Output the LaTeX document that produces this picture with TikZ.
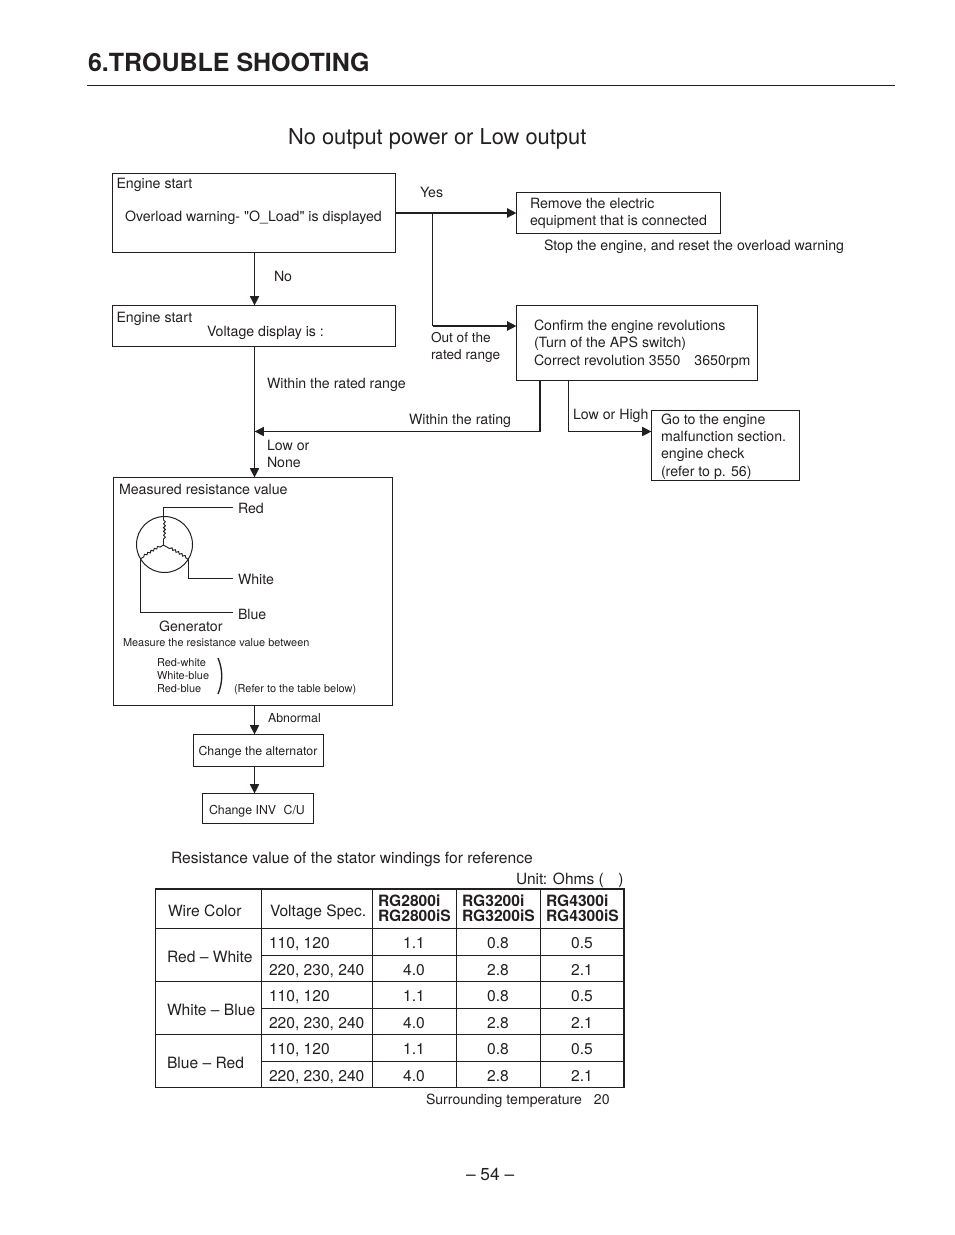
\documentclass[tikz,border=0pt]{standalone}
\usepackage{fontspec}
\setmainfont{TeX Gyre Heros}
\newfontfamily\plainf{TeX Gyre Heros}[Ligatures=NoCommon]
\usetikzlibrary{arrows.meta,calc}
\definecolor{ink}{HTML}{231F20}
\newcommand\pxbox[5]{\node[box,minimum width={(#4-#2)*0.75pt},minimum height={(#5-#3)*0.75pt}] (#1) at ({(#2+#4)/2},{(#3+#5)/2}) {};}
% winding: start coordinate, page angle, lead-in, total length
\newcommand\windarm[4]{\begin{scope}[shift={(#1)},rotate=#2]
  \draw[wind] (0,0) -- (#3,0) \foreach \k in {1,...,5}{ arc[start angle=180,end angle=0,radius=1.9] } -- (#4,0);
\end{scope}}
\tikzset{
 box/.style={draw=ink,line width=0.75pt,inner sep=0pt,outer sep=0pt},
 lbl/.style={anchor=base west,inner sep=0pt,outer sep=0pt,text=ink,font=\fontsize{10.62}{12}\selectfont},
 lblsm/.style={lbl,font=\fontsize{9.25}{11}\selectfont},
 lblxs/.style={lbl,font=\fontsize{8.2}{10}\selectfont},
 cell/.style={lbl,anchor=base,font=\fontsize{11.7}{13}\selectfont},
 cellw/.style={lbl,font=\fontsize{11.7}{13}\selectfont},
 head/.style={lbl,font=\bfseries\fontsize{11.7}{12}\selectfont},
 conn/.style={draw=ink,line width=0.8pt},
 flow/.style={conn,-{Triangle[length=7pt,width=6.8pt]}},
 heavy/.style={line width=1.5pt},
 grid/.style={draw=ink,line width=0.7pt},
 outer/.style={draw=ink,line width=1.1pt},
 wind/.style={draw=ink,line width=0.7pt}
}
\begin{document}
\begin{tikzpicture}[x=0.75pt,y=-0.75pt]
\useasboundingbox (0,0) rectangle (954,1235);
% header
\node[lbl,font=\bfseries\fontsize{18.75}{24}\selectfont] (title) at (88,71.5) {6.TROUBLE SHOOTING};
\coordinate (ruleL) at (87,85.5); \coordinate (ruleR) at (895,85.5);
\draw[conn] (ruleL) -- (ruleR);
\node[lbl,font=\fontsize{16.4}{20}\selectfont] (sub) at (288,144.5) {No output power or Low output};
% boxes
\pxbox{b1}{112.5}{173.5}{395.5}{252.5}
\pxbox{b2}{112.5}{305.5}{395.5}{346.5}
\pxbox{b3}{516.5}{192.5}{720.5}{233.5}
\pxbox{b4}{516.5}{305.5}{757.5}{380.5}
\begin{scope}[box/.append style={line width=1.05pt}]
\pxbox{b5}{651.5}{410.5}{799.5}{480.5}
\end{scope}
\pxbox{b6}{113.5}{477.5}{392.5}{705.5}
\pxbox{b7}{193.5}{734.5}{323.5}{766.5}
\pxbox{b8}{202.5}{793.5}{313.5}{823.5}
% flow junctions
\coordinate (fx) at (254.5,0);
\coordinate (jY) at (432.5,213);
\coordinate (jO) at (432.5,326);
\coordinate (tO) at (516.5,326);
\coordinate (sR) at (540,380.5);
\coordinate (cR) at (540,431.5);
\coordinate (mR) at (254.5,431.5);
\coordinate (sL) at (568.5,380.5);
\coordinate (cL) at (568.5,431.5);
\coordinate (tL) at (651.5,431.5);
\draw[flow,heavy] (b1.east) -- (b3.west);
\draw[conn,line width=1pt] (jY) -- (jO);
\draw[flow,heavy] (jO) -- (tO);
\draw[flow] (fx |- b1.south) -- (fx |- b2.north);
\draw[flow] (fx |- b2.south) -- (fx |- b6.north);
\draw[conn,heavy] (sR) -- (cR);
\draw[flow] (cR) -- (mR);
\draw[conn] (sL) -- (cL);
\draw[flow] (cL) -- (tL);
\draw[flow] (fx |- b6.south) -- (fx |- b7.north);
\draw[flow] (fx |- b7.south) -- (fx |- b8.north);
% flow text
\node[lbl] (t1) at (116.5,188) {Engine start};
\node[lbl] (t2) at (125,221) {Overload warning- {\plainf "O\_Load"} is displayed};
\node[lbl] (t3) at (420,197) {Yes};
\node[lbl] (t4) at (530,208) {Remove the electric};
\node[lbl] (t5) at (530,225) {equipment that is connected};
\node[lbl] (t6) at (544,250) {Stop the engine, and reset the overload warning};
\node[lbl] (t7) at (274,281) {No};
\node[lbl] (t8) at (116.5,322) {Engine start};
\node[lbl] (t9) at (207,336) {Voltage display is :};
\node[lbl,font=\fontsize{10.2}{12}\selectfont] (t10) at (431,342) {Out of the};
\node[lbl,font=\fontsize{10.2}{12}\selectfont] (t11) at (431,359) {rated range};
\node[lbl] (t12) at (534,330) {Confirm the engine revolutions};
\node[lbl] (t13) at (534,347) {(Turn of the APS switch)};
\node[lbl] (t14) at (534,365) {Correct revolution 3550\hspace{10.5pt}3650rpm};
\node[lbl] (t15) at (267,388) {Within the rated range};
\node[lbl] (t16) at (409,424) {Within the rating};
\node[lbl] (t17) at (573,419) {Low or High};
\node[lbl] (t18) at (661,424) {Go to the engine};
\node[lbl] (t19) at (661,441) {malfunction section.};
\node[lbl] (t20) at (661,458) {engine check};
\node[lbl] (t21) at (661,476) {(refer to p. 56)};
\node[lbl] (t22) at (267,450) {Low or};
\node[lbl] (t23) at (267,467) {None};
% resistance box
\node[lbl] (t24) at (119,494) {Measured resistance value};
\node[lbl] (t25) at (238,513) {Red};
\node[lbl] (t26) at (238,584) {White};
\node[lbl] (t27) at (238,619) {Blue};
\node[lbl] (t28) at (159,631) {Generator};
\node[lblxs] (t29) at (123,646) {Measure the resistance value between};
\node[lblxs] (t30) at (157,666) {Red-white};
\node[lblxs] (t31) at (157,679) {White-blue};
\node[lblxs] (t32) at (157,692) {Red-blue};
\node[lblxs] (t33) at (234,692) {(Refer to the table below)};
\node[lblsm] (t34) at (268,722) {Abnormal};
\node[lblsm] (t35) at (198.5,755) {Change the alternator};
\node[lblsm] (t36) at (209,814) {Change INV\hspace{3pt} C/U};
% generator symbol
\node[circle,draw=ink,line width=0.75pt,minimum size=42pt,inner sep=0pt,outer sep=0pt] (gen) at (164.5,544.5) {};
\coordinate (gc) at (163.5,545);
\coordinate (wT) at (163.5,516.5);
\coordinate (wL) at (140.5,559);
\coordinate (wR) at (188.5,559.5);
\windarm{gc}{90}{6}{28.5}
\windarm{gc}{211}{4}{26.5}
\windarm{wR}{150}{3}{29}
\draw[conn] (wT) |- (233,507.5);
\draw[conn] (wR) |- (233,578.5);
\draw[conn] (wL) |- (233,612.5);
\coordinate (pA) at (218,658); \coordinate (pB) at (218,694);
\draw[draw=ink,line width=1pt] (pA) .. controls (223,670) and (223,682) .. (pB);
% table
\node[lbl,font=\fontsize{11.7}{13}\selectfont] (t37) at (171,863) {Resistance value of the stator windings for reference};
\node[lbl,font=\fontsize{11.6}{13}\selectfont] (t38) at (516,884) {Unit: Ohms (\hspace{11pt})};
\foreach \y in {928.5,981.5,1034.5}{
  \draw[grid] (155.5,\y) -- (624,\y);}
\foreach \y in {955.5,1008.5,1061.5}{
  \draw[grid] (261.5,\y) -- (624,\y);}
\foreach \x in {261.5,372.5,456.5,540.5}{
  \draw[grid] (\x,889) -- (\x,1087.5);}
\draw[outer] (155.5,889) rectangle (624,1087.5);
\node[cellw] (h1) at (168,916) {Wire Color};
\node[cellw] (h2) at (270,916) {Voltage Spec.};
\node[head] (h3a) at (378,906) {RG2800i};
\node[head] (h3b) at (378,921) {RG2800iS};
\node[head] (h4a) at (462,906) {RG3200i};
\node[head] (h4b) at (462,921) {RG3200iS};
\node[head] (h5a) at (546,906) {RG4300i};
\node[head] (h5b) at (546,921) {RG4300iS};
\node[cellw] (w1) at (167,962) {Red -- White};
\node[cellw] (w2) at (167,1015) {White -- Blue};
\node[cellw] (w3) at (167,1068) {Blue -- Red};
\foreach \y/\r in {948/1,1001.5/3,1054.5/5}{
  \node[cellw] (v\r) at (269,\y) {110, 120};
  \node[cell] (a\r) at (414,\y) {1.1};
  \node[cell] (b\r) at (498,\y) {0.8};
  \node[cell] (c\r) at (582,\y) {0.5};}
\foreach \y/\r in {975/2,1028/4,1081/6}{
  \node[cellw] (v\r) at (269,\y) {220, 230, 240};
  \node[cell] (a\r) at (414,\y) {4.0};
  \node[cell] (b\r) at (498,\y) {2.8};
  \node[cell] (c\r) at (582,\y) {2.1};}
\node[lblsm,font=\fontsize{10.55}{12}\selectfont] (t39) at (426,1104) {Surrounding temperature\hspace{9pt}20};
\node[lbl,font=\fontsize{13}{14}\selectfont] (page) at (466,1180.5) {-- 54 --};
\end{tikzpicture}
\end{document}
